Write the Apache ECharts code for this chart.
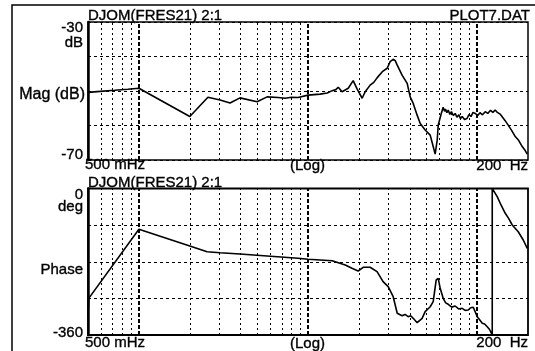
<!DOCTYPE html>
<html>
<head>
<meta charset="utf-8">
<script src="https://cdn.jsdelivr.net/npm/echarts@6/dist/echarts.min.js"></script>
<style>
  html, body { margin: 0; padding: 0; background: #fff; }
  #chart { width: 535px; height: 351px; }
</style>
</head>
<body>
<div id="chart"></div>
<script>
// Frequency response DJOM(FRES21) 2:1 — magnitude (dB) and phase (deg), log frequency 0.5 .. 200 Hz

const magFreq = [0.5, 0.59, 0.72, 0.86, 1.0, 2.0, 2.56, 3.02, 3.46, 3.96, 5.0, 5.73, 6.65, 7.32, 8.0, 8.74,
  10.0, 11.8, 13.0, 13.9, 14.6, 15.1, 15.9, 17.3, 18.5, 19.5, 20.9, 21.8, 23.3, 24.5, 25.6, 27.5, 29.4,
  30.6, 31.9, 32.8, 33.7, 36.0, 38.6, 40.2, 41.9, 44.2, 46.1, 49.3, 52.8, 55.0, 56.5, 58.1, 58.9, 61.4,
  63.0, 64.2, 65.0, 66.3, 67.5, 69.0, 70.5, 72.3, 74.2, 76.0, 78.0, 79.8, 81.6, 84.5, 87.4, 89.5, 92.0,
  94.6, 97.5, 100.8, 104, 107.6, 111.7, 115.6, 120, 124, 127.9, 131, 134, 137.5, 140.8, 146.5, 152.7,
  160, 168.1, 176, 184.9, 191, 198];
const magDb = [-50.4, -50.1, -49.8, -49.5, -49.2, -57.4, -51.8, -52.6, -53.5, -52.0, -53.1, -51.7, -51.9, -52.1, -51.8, -51.9,
  -51.2, -50.9, -50.6, -49.9, -49.6, -48.9, -50.2, -49.2, -47.0, -49.4, -52.1, -50.2, -48.3, -47.5, -46.2, -44.4, -43.4,
  -41.5, -40.8, -41.2, -42.5, -45.4, -47.8, -51.7, -53.6, -57.0, -59.4, -61.3, -62.8, -66.1, -68.3, -64.2, -59.9, -56.5,
  -54.7, -55.9, -55.2, -56.3, -55.5, -56.8, -56.0, -57.1, -56.5, -57.6, -56.9, -58.0, -57.4, -58.3, -57.9, -56.8, -57.4,
  -56.2, -56.5, -57.1, -56.3, -56.9, -56.0, -56.5, -55.6, -56.2, -55.5, -56.1, -56.0, -56.8, -57.0, -58.6, -59.9,
  -61.4, -63.2, -64.3, -66.1, -67.0, -68.3];

const phaseFreq = [0.5, 0.505, 1.0, 2.0, 2.53, 3.02, 3.96, 5.73, 8.74, 10.0, 13.9, 16.6, 18.2, 19.8, 21.2, 23.3,
  25.6, 27.8, 29.8, 31.9, 33.7, 36.0, 37.5, 39.1, 40.5, 41.9, 44.2, 47.3, 49.3, 52.8, 55.0, 57.3, 58.9, 60.5,
  63.0, 65.2, 67.5, 70.8, 74.2, 77.8, 81.6, 85.0, 88.6, 91.5, 94.9, 100.2, 103.5, 107.3, 110.8, 114.8, 118.5,
  122.9, 122.9, 131.5, 138.5, 146.7, 153.6, 161.4, 175.1, 187.5, 198];
const phaseDeg = [-316, -270, -100.3, -141.3, -155.3, -157.8, -161, -165.9, -171.5, -174, -177.4, -188, -196.1, -202.7, -193.6, -193.6,
  -204.4, -229, -241.3, -265.9, -306.7, -312.6, -309.5, -315, -312.8, -319, -329.8, -319, -302.7, -290.5, -278.2, -224.8, -220.7, -245.2,
  -269.8, -281.0, -284.6, -291.5, -288.7, -296.0, -294.4, -299.5, -298.6, -293.0, -291.9, -315, -322.5, -331.2, -333.0, -339.6, -346.5,
  -360, 0, -20.1, -40.5, -60.9, -73.5, -89.7, -106.2, -126.6, -147];

// vertical grid: 1-2-…-9 subdivisions and decade lines
const minorGridFreqs = [0.6, 0.7, 0.8, 0.9, 2, 3, 4, 5, 6, 7, 8, 9, 20, 30, 40, 50, 60, 70, 80, 90];
const decadeGridFreqs = [1, 10, 100];

// axis texts
const magTickLabels = ['-30', 'dB', '-70'];
const phaseTickLabels = ['0', 'deg', '-360'];
const freqTickLabels = ['500 mHz', '(Log)', '200  Hz'];
const traceTitle = 'DJOM(FRES21) 2:1';
const fileName = 'PLOT7.DAT';

const FONT = '15px "Liberation Sans", Arial, sans-serif';
const INK = '#000';

function pairs(xs, ys) { return xs.map((x, i) => [x, ys[i]]); }

function gridLines() {
  const minor = minorGridFreqs.map(f => ({ xAxis: f, lineStyle: { color: INK, width: 1, type: [2, 3] } }));
  const major = decadeGridFreqs.map(f => ({ xAxis: f, lineStyle: { color: INK, width: 2, type: [4, 2] } }));
  return {
    silent: true, symbol: ['none', 'none'], label: { show: false }, animation: false,
    emphasis: { disabled: true }, data: minor.concat(major)
  };
}

function xAxis(gridIndex) {
  return {
    type: 'log', logBase: 10, min: 0.5, max: 200, gridIndex,
    axisLine: { show: false }, axisTick: { show: false }, axisLabel: { show: false }, splitLine: { show: false }
  };
}

function yAxis(gridIndex, min, max, interval) {
  return {
    type: 'value', min, max, interval, gridIndex,
    axisLine: { show: true, lineStyle: { color: INK, width: 2.5 } },
    axisTick: { show: false }, axisLabel: { show: false },
    splitLine: { show: true, lineStyle: { color: INK, width: 1, type: [3, 3] } }
  };
}

function txt(text, x, y, align, font) {
  return {
    type: 'text', x, y, silent: true, z: 100,
    style: {
      text, font: font || FONT, fill: INK, stroke: INK, lineWidth: 0.35,
      align, textAlign: align, verticalAlign: 'middle', textVerticalAlign: 'middle'
    }
  };
}

const chart = echarts.init(document.getElementById('chart'), null, { renderer: 'canvas' });

chart.setOption({
  animation: false,
  backgroundColor: '#fff',
  grid: [
    { left: 88, top: 22, width: 440, height: 138, show: true, borderColor: INK, borderWidth: 1.5 },
    { left: 88, top: 188.5, width: 440, height: 146.5, show: true, borderColor: INK, borderWidth: 1.8 }
  ],
  xAxis: [xAxis(0), xAxis(1)],
  yAxis: [yAxis(0, -70, -30, 10), yAxis(1, -360, 0, 90)],
  series: [
    {
      name: 'Mag (dB)', type: 'line', xAxisIndex: 0, yAxisIndex: 0, symbol: 'none',
      lineStyle: { color: INK, width: 1.6 }, data: pairs(magFreq, magDb), markLine: gridLines(), z: 5
    },
    {
      name: 'Phase', type: 'line', xAxisIndex: 1, yAxisIndex: 1, symbol: 'none',
      lineStyle: { color: INK, width: 1.6 }, data: pairs(phaseFreq, phaseDeg), markLine: gridLines(), z: 5
    }
  ],
  graphic: [
    { type: 'polyline', silent: true, shape: { points: [[12, 351], [12, 5], [535, 5]] },
      style: { stroke: INK, lineWidth: 1.5, fill: null } },
    // magnitude panel
    txt(traceTitle, 88, 16, 'left'),
    txt(fileName, 530, 16, 'right'),
    txt(magTickLabels[0], 83, 28, 'right'),
    txt(magTickLabels[1], 83, 43, 'right'),
    txt('Mag (dB)', 85, 95, 'right', '16px "Liberation Sans", Arial, sans-serif'),
    txt(magTickLabels[2], 83, 155, 'right'),
    txt(freqTickLabels[0], 85, 165, 'left'),
    txt(freqTickLabels[1], 307.5, 166, 'center'),
    txt(freqTickLabels[2], 528, 166, 'right'),
    // phase panel
    txt(traceTitle, 88, 183, 'left'),
    txt(phaseTickLabels[0], 83, 195, 'right'),
    txt(phaseTickLabels[1], 83, 207, 'right'),
    txt('Phase', 83, 270, 'right'),
    txt(phaseTickLabels[2], 83, 333, 'right'),
    txt(freqTickLabels[0], 85, 343, 'left'),
    txt(freqTickLabels[1], 307.5, 344, 'center'),
    txt(freqTickLabels[2], 528, 343, 'right')
  ]
});
</script>
</body>
</html>
